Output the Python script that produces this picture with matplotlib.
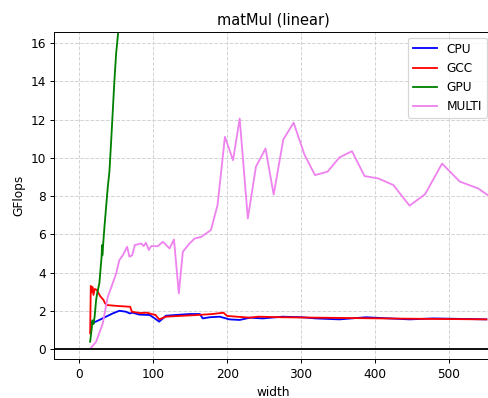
import matplotlib
matplotlib.use("Agg")
import matplotlib.pyplot as plt

# values
cpu_x = [16, 22, 27, 36, 45, 54, 63, 68, 72, 81, 95, 102, 108, 117, 131, 149, 163, 167,
         176, 190, 203, 217, 231, 248, 275, 302, 320, 352, 388, 420, 447, 479, 551]
cpu_y = [1.35, 1.43, 1.52, 1.69, 1.86, 2.0, 1.95, 1.86, 1.9, 1.8, 1.78, 1.6, 1.43, 1.74,
         1.78, 1.83, 1.83, 1.6, 1.66, 1.69, 1.55, 1.52, 1.64, 1.6, 1.69, 1.66, 1.6,
         1.55, 1.66, 1.6, 1.55, 1.6, 1.55]

gcc_x = [14.5, 15.4, 16.5, 17.6, 19, 20.6, 23.6, 28, 32.5, 34.8, 37, 52, 68.7, 71, 82, 91,
         103, 108, 117, 131, 160, 180, 195, 200, 213, 231, 242, 275, 320, 365, 410, 460, 551]
gcc_y = [0.82, 3.3, 2.98, 3.25, 2.83, 3.14, 3.09, 2.77, 2.57, 2.39, 2.3, 2.25, 2.21, 1.95,
         1.88, 1.9, 1.78, 1.55, 1.69, 1.72, 1.78, 1.83, 1.9, 1.73, 1.69, 1.64, 1.69,
         1.66, 1.64, 1.62, 1.6, 1.58, 1.55]

gpu_x = [14.5, 16.7, 17.6, 19, 20.6, 22.6, 24, 27, 30, 30.7, 31, 33.9, 38.4, 40.6, 43,
         47.4, 49.7, 52.8, 56]
gpu_y = [0.38, 1.08, 1.5, 1.3, 1.69, 2.56, 2.9, 3.44, 4.83, 5.44, 4.9, 6.4, 8.48, 9.27,
         10.9, 14.07, 15.46, 16.7, 18.0]

multi_x = [15, 22.6, 31.6, 38.4, 45, 49.7, 54, 58.7, 64.6, 67.7, 71.4, 75, 83.6, 87, 90,
           94, 97, 106, 113, 122, 128, 134.6, 140, 149, 156, 165, 178, 187, 197, 208,
           217, 228, 239, 252, 263, 276, 290, 305, 319, 336, 352, 369, 386, 405, 425,
           447, 468, 491, 515, 540, 553]
multi_y = [0.03, 0.38, 1.34, 2.73, 3.43, 3.95, 4.65, 4.9, 5.35, 4.83, 4.9, 5.44, 5.52,
           5.38, 5.56, 5.18, 5.38, 5.38, 5.61, 5.26, 5.73, 2.91, 5.09, 5.52, 5.78, 5.87,
           6.22, 7.53, 11.1, 9.88, 12.06, 6.83, 9.54, 10.49, 8.08, 10.96, 11.84, 10.14,
           9.1, 9.28, 10.02, 10.35, 9.05, 8.92, 8.58, 7.5, 8.1, 9.7, 8.76, 8.4, 8.05]

DPI = 87.5
fig = plt.figure(figsize=(488 / DPI, 398 / DPI), dpi=DPI)
ax = fig.add_axes([0.1113, 0.0972, 0.899, 0.823])

ax.plot(cpu_x, cpu_y, color='blue', label='CPU')
ax.plot(gcc_x, gcc_y, color='red', label='GCC')
ax.plot(gpu_x, gpu_y, color='green', label='GPU')
ax.plot(multi_x, multi_y, color='violet', label='MULTI')
ax.axhline(0, color='black', lw=1.5)

ax.set_xlim(-34, 560)
ax.set_ylim(-0.54, 16.6)
ax.set_yticks(range(0, 17, 2))
ax.grid(True, linestyle='--', color='#d3d3d3', lw=0.8)
ax.set_title('matMul (linear)')
ax.set_xlabel('width')
ax.set_ylabel('GFlops')
ax.legend(loc='upper right')

fig.savefig('out.png', dpi=DPI)
